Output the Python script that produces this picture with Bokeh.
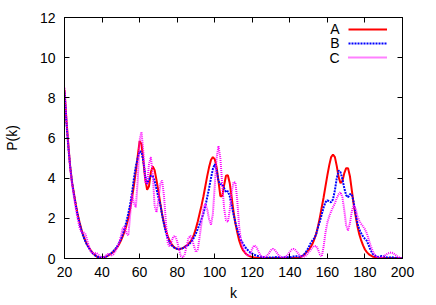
from bokeh.plotting import figure
from bokeh.models import (Range1d, FixedTicker, LinearAxis, Legend, LegendItem,
                          Label, CustomJSTickFormatter)
from bokeh.core.properties import value
from bokeh.embed import file_html
from bokeh.resources import INLINE

# ---- data ----
k = list(range(20, 201))

A = [8.4, 6.9, 5.7, 4.6, 3.8, 3.25, 2.7, 2.2, 1.8, 1.45,
     1.15, 0.9, 0.7, 0.55, 0.4, 0.28, 0.18, 0.11, 0.06, 0.04,
     0.04, 0.06, 0.09, 0.13, 0.19, 0.25, 0.33, 0.43, 0.55, 0.7,
     0.88, 1.1, 1.35, 1.65, 2.0, 2.5, 3.05, 3.65, 4.35, 5.1,
     5.85, 5.7, 4.85, 3.95, 3.42, 3.6, 4.3, 4.58, 4.4, 3.9,
     3.35, 2.75, 2.2, 1.75, 1.4, 1.1, 0.88, 0.72, 0.6, 0.52,
     0.48, 0.47, 0.48, 0.52, 0.58, 0.65, 0.72, 0.82, 0.98, 1.2,
     1.5, 1.85, 2.25, 2.65, 3.1, 3.6, 4.1, 4.55, 4.9, 5.05,
     4.95, 4.55, 3.85, 3.1, 3.1, 3.65, 4.12, 4.15, 3.75, 3.05,
     2.35, 1.75, 1.3, 0.9, 0.62, 0.42, 0.3, 0.2, 0.14, 0.1,
     0.07, 0.05, 0.04, 0.03, 0.03, 0.03, 0.03, 0.03, 0.03, 0.03,
     0.03, 0.03, 0.03, 0.03, 0.03, 0.03, 0.03, 0.03, 0.03, 0.03,
     0.03, 0.03, 0.03, 0.03, 0.03, 0.04, 0.08, 0.14, 0.22, 0.32,
     0.43, 0.55, 0.72, 0.95, 1.22, 1.6, 2.05, 2.55, 3.05, 3.6,
     4.15, 4.65, 5.05, 5.18, 5.05, 4.6, 4.05, 3.75, 3.85, 4.25,
     4.5, 4.5, 4.1, 3.4, 2.7, 2.15, 1.6, 1.2, 0.9, 0.65,
     0.45, 0.32, 0.22, 0.15, 0.1, 0.07, 0.05, 0.03, 0.02, 0.02,
     0.02, 0.02, 0.02, 0.02, 0.02, 0.02, 0.02, 0.02, 0.02, 0.02,
     0.02]

B = [8.3, 6.8, 5.6, 4.6, 3.8, 3.2, 2.65, 2.15, 1.75, 1.4,
     1.1, 0.88, 0.68, 0.52, 0.38, 0.27, 0.18, 0.11, 0.07, 0.05,
     0.05, 0.06, 0.09, 0.14, 0.2, 0.27, 0.36, 0.47, 0.6, 0.76,
     0.95, 1.2, 1.5, 1.85, 2.25, 2.7, 3.3, 4.0, 4.6, 5.0,
     5.35, 5.3, 4.85, 4.1, 3.72, 3.95, 4.12, 4.12, 3.85, 3.45,
     3.05, 2.7, 2.15, 1.7, 1.3, 1.0, 0.8, 0.66, 0.57, 0.51,
     0.48, 0.47, 0.48, 0.52, 0.57, 0.62, 0.68, 0.78, 0.9, 1.05,
     1.25, 1.48, 1.72, 1.98, 2.25, 2.6, 3.05, 3.5, 4.0, 4.45,
     4.7, 4.4, 3.85, 3.7, 3.7, 3.5, 3.3, 3.35, 3.1, 2.65,
     2.2, 1.8, 1.45, 1.15, 0.92, 0.75, 0.6, 0.48, 0.38, 0.3,
     0.24, 0.19, 0.15, 0.12, 0.1, 0.08, 0.07, 0.06, 0.05, 0.05,
     0.05, 0.05, 0.06, 0.07, 0.06, 0.05, 0.05, 0.06, 0.08, 0.07,
     0.06, 0.07, 0.1, 0.12, 0.1, 0.09, 0.1, 0.15, 0.25, 0.38,
     0.55, 0.75, 0.9, 1.0, 1.2, 1.55, 1.85, 2.2, 2.55, 2.8,
     2.9, 2.85, 2.8, 2.95, 3.4, 4.0, 4.38, 4.3, 3.95, 3.5,
     3.15, 3.05, 3.2, 3.2, 2.8, 2.25, 1.75, 1.45, 1.25, 1.1,
     0.98, 0.88, 0.65, 0.42, 0.25, 0.16, 0.1, 0.08, 0.1, 0.12,
     0.1, 0.07, 0.05, 0.05, 0.06, 0.05, 0.04, 0.03, 0.03, 0.02,
     0.02]

C = [8.5, 7.0, 5.7, 4.5, 3.7, 3.1, 2.5, 2.0, 1.55, 1.3,
     1.3, 1.25, 0.95, 0.6, 0.35, 0.25, 0.25, 0.28, 0.2, 0.08,
     0.03, 0.05, 0.15, 0.22, 0.2, 0.15, 0.2, 0.35, 0.55, 0.75,
     1.1, 1.5, 1.6, 1.25, 1.15, 2.2, 3.2, 2.75, 2.55, 3.9,
     5.9, 6.3, 5.3, 3.8, 3.7, 4.7, 5.05, 4.2, 2.6, 2.3,
     2.9, 3.7, 3.88, 3.1, 1.8, 0.75, 0.6, 0.85, 1.1, 1.12,
     0.85, 0.45, 0.12, 0.05, 0.2, 0.6, 1.0, 1.13, 0.95, 0.6,
     0.32, 0.45, 1.1, 1.8, 2.5, 2.72, 2.45, 1.95, 1.68, 2.2,
     3.6, 5.0, 5.6, 5.0, 3.7, 2.5, 1.9, 1.82, 2.4, 3.3,
     3.8, 3.8, 2.9, 1.6, 0.9, 0.55, 0.35, 0.2, 0.12, 0.25,
     0.5, 0.65, 0.6, 0.42, 0.22, 0.1, 0.05, 0.08, 0.15, 0.28,
     0.42, 0.48, 0.42, 0.3, 0.17, 0.08, 0.04, 0.05, 0.1, 0.2,
     0.33, 0.44, 0.48, 0.42, 0.3, 0.18, 0.1, 0.08, 0.1, 0.18,
     0.3, 0.42, 0.55, 0.63, 0.62, 0.45, 0.2, 0.1, 0.6, 1.3,
     1.8, 2.1, 2.35, 2.55, 2.75, 3.0, 3.2, 3.3, 3.05, 2.4,
     1.65, 1.4, 1.75, 2.35, 2.65, 2.5, 2.1, 1.88, 1.72, 1.6,
     1.45, 1.25, 0.95, 0.65, 0.4, 0.22, 0.1, 0.05, 0.03, 0.05,
     0.1, 0.18, 0.24, 0.28, 0.3, 0.27, 0.2, 0.12, 0.06, 0.03,
     0.02]

series_names = ["A", "B", "C"]
x_ticks = [20, 40, 60, 80, 100, 120, 140, 160, 180, 200]
y_ticks = [0, 2, 4, 6, 8, 10, 12]
x_title = "k"
y_title = "P(k)"

FONT = "Liberation Sans"
FS = "14px"

p = figure(width=436, height=305, output_backend="svg", toolbar_location=None,
           x_range=Range1d(20, 200), y_range=Range1d(0, 12),
           min_border_left=62, min_border_right=34,
           min_border_top=17, min_border_bottom=47)
p.grid.visible = False
p.outline_line_color = "black"
p.outline_line_width = 1
p.background_fill_color = "white"
p.border_fill_color = "white"

def style_axis(ax, ticks, labels=True):
    ax.ticker = FixedTicker(ticks=ticks)
    ax.minor_tick_line_color = None
    ax.major_tick_in = 5
    ax.major_tick_out = 0
    ax.axis_line_color = "black"
    ax.major_tick_line_color = "black"
    if labels:
        ax.major_label_text_font = FONT
        ax.major_label_text_font_size = FS
        ax.major_label_text_color = "black"
        ax.axis_label_text_font = FONT
        ax.axis_label_text_font_size = FS
        ax.axis_label_text_font_style = "normal"
        ax.axis_label_text_color = "black"
    else:
        ax.formatter = CustomJSTickFormatter(code="return ''")
        ax.major_label_text_font_size = "0px"
        ax.major_label_standoff = 0

xa = p.xaxis[0]
style_axis(xa, x_ticks)
xa.axis_label = x_title
xa.major_label_standoff = 8
xa.axis_label_standoff = 5

ya = p.yaxis[0]
style_axis(ya, y_ticks)
ya.axis_label = y_title
ya.major_label_standoff = 9
ya.axis_label_standoff = 17

top = LinearAxis()
style_axis(top, x_ticks, labels=False)
p.add_layout(top, "above")
right = LinearAxis()
style_axis(right, y_ticks, labels=False)
p.add_layout(right, "right")

rA = p.line(k, A, line_color="#ff0000", line_width=2)
rB = p.line(k, B, line_color="#0000ff", line_width=2, line_dash="2 1")
rC = p.line(k, C, line_color="#ff00ff", line_width=2, line_dash="1 1")

legend = Legend(items=[LegendItem(label=value(""), renderers=[r]) for r in (rA, rB, rC)],
                location=(284, 194), padding=0, spacing=0, margin=0,
                glyph_width=39, glyph_height=14, label_width=0, label_height=14,
                label_standoff=0, label_text_font_size="1px",
                border_line_color=None, background_fill_alpha=0)
p.add_layout(legend)

for name, yy in zip(series_names, (229.7, 215.3, 200.7)):
    p.add_layout(Label(x=275, y=yy, x_units="screen", y_units="screen", text=name,
                       text_align="right", text_baseline="middle",
                       text_font=FONT, text_font_size=FS, text_color="black"))

open("out.html", "w").write(file_html(p, INLINE))
